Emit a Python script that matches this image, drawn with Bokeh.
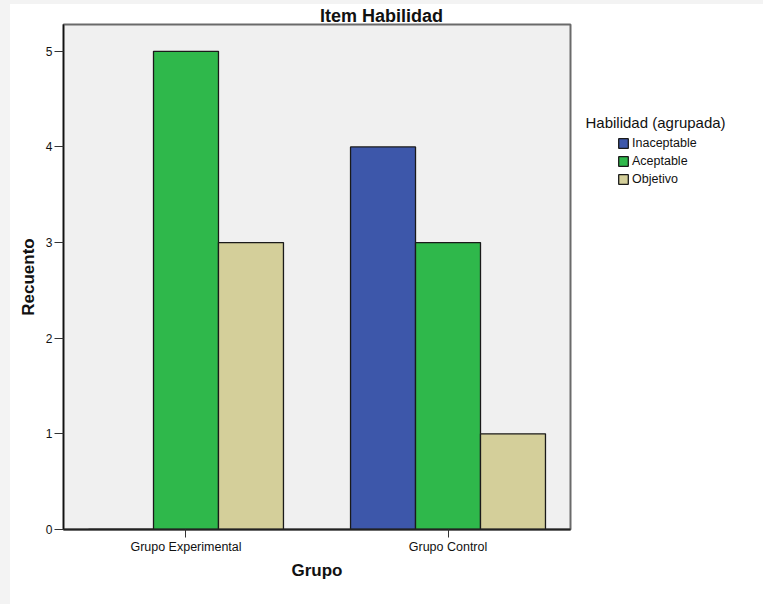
from bokeh.plotting import figure
from bokeh.layouts import row
from bokeh.models import (ColumnDataSource, FactorRange, Range1d, SingleIntervalTicker,
                          Legend, LegendItem, Label)
from bokeh.transform import dodge
from bokeh.embed import file_html
from bokeh.resources import INLINE

# Counts per group and skill level
groups = ["Grupo Experimental", "Grupo Control"]
levels = ["Inaceptable", "Aceptable", "Objetivo"]
inaceptable = [0, 4]
aceptable = [5, 3]
objetivo = [3, 1]

colors = ["#3d57aa", "#2fb84b", "#d4cf9a"]
FONT = "Liberation Sans"
BAR_LINE = "#1a1a1a"

source = ColumnDataSource(data=dict(
    grupo=groups,
    Inaceptable=inaceptable,
    Aceptable=aceptable,
    Objetivo=objetivo,
))

bar_w = 0.248
offsets = [-bar_w, 0.0, bar_w]


def add_bars(fig, visible=True):
    rs = []
    for lvl, off, col in zip(levels, offsets, colors):
        rs.append(fig.vbar(x=dodge("grupo", off, range=fig.x_range), top=lvl, width=bar_w,
                           source=source, fill_color=col, line_color=BAR_LINE,
                           line_width=1.3, visible=visible))
    return rs


# ---- main chart -------------------------------------------------------------
p = figure(
    width=562, height=600,
    margin=(4, 0, 0, 10),
    x_range=FactorRange(factors=groups, range_padding=-0.0325, range_padding_units="absolute"),
    y_range=Range1d(0, 5.28),
    output_backend="svg", toolbar_location=None,
    min_border_left=53, min_border_right=2, min_border_top=18, min_border_bottom=75,
)
p.title.visible = False
p.background_fill_color = "#f0f0f0"
p.border_fill_color = "white"
p.outline_line_color = "#6a6a6a"
p.outline_line_width = 2
p.grid.visible = False

add_bars(p)

p.yaxis.ticker = SingleIntervalTicker(interval=1)
p.yaxis.minor_tick_line_color = None
p.yaxis.major_tick_out = 9
p.yaxis.major_tick_in = 0
p.yaxis.major_label_standoff = 2
p.yaxis.axis_line_color = "#111111"
p.yaxis.axis_line_width = 1.5
p.yaxis.major_tick_line_color = "#333333"
p.yaxis.major_label_text_font = FONT
p.yaxis.major_label_text_font_size = "12px"
p.yaxis.major_label_text_color = "#111111"
p.yaxis.axis_label = "Recuento"
p.yaxis.axis_label_text_font = FONT
p.yaxis.axis_label_text_font_style = "bold"
p.yaxis.axis_label_text_font_size = "17px"
p.yaxis.axis_label_text_color = "#111111"
p.yaxis.axis_label_standoff = 5

p.xaxis.major_tick_out = 8
p.xaxis.major_tick_in = 0
p.xaxis.major_label_standoff = 2
p.xaxis.axis_line_color = "#222222"
p.xaxis.axis_line_width = 2
p.xaxis.major_tick_line_color = "#333333"
p.xaxis.major_label_text_font = FONT
p.xaxis.major_label_text_font_size = "12.5px"
p.xaxis.major_label_text_color = "#111111"
p.xaxis.axis_label = "Grupo"
p.xaxis.axis_label_text_font = FONT
p.xaxis.axis_label_text_font_style = "bold"
p.xaxis.axis_label_text_font_size = "17px"
p.xaxis.axis_label_text_color = "#111111"
p.xaxis.axis_label_standoff = 4

# chart title in the top border, centred over the whole page
p.add_layout(Label(x=318, y=9, x_units="screen", y_units="screen", text="Item Habilidad",
                   text_font=FONT, text_font_style="bold", text_font_size="18px",
                   text_align="center", text_baseline="alphabetic", text_color="#111111"),
             "above")

# ---- legend panel (frame is aligned with the chart frame) -------------------
lp = figure(
    width=191, height=600, margin=(4, 0, 0, 0),
    x_range=FactorRange(factors=groups), y_range=Range1d(0, 5.28),
    x_axis_type=None, y_axis_type=None,
    output_backend="svg", toolbar_location=None,
    min_border=0,
)
lp.title.visible = False
lp.outline_line_color = None
lp.grid.visible = False
lp.background_fill_color = "white"
lp.border_fill_color = "white"

# hidden copies of the bars, used only for the legend swatches
swatches = add_bars(lp, visible=False)

lp.add_layout(Label(x=13, y=407, x_units="screen", y_units="screen", text="Habilidad (agrupada)",
                    text_font=FONT, text_font_size="15px", text_align="left",
                    text_baseline="middle", text_color="#111111"))

legend = Legend(
    items=[LegendItem(label=l, renderers=[r]) for l, r in zip(levels, swatches)],
    location=(45, 343),
    padding=0, margin=0, spacing=4,
    glyph_width=12, glyph_height=12, label_height=13, label_standoff=3,
    label_text_font=FONT, label_text_font_size="12.5px", label_text_color="#111111",
    border_line_color=None, background_fill_alpha=0,
    inactive_fill_alpha=0,
)
lp.add_layout(legend, "center")

# light grey strips along the top and left page edges, white elsewhere
page_bg = ("linear-gradient(#f3f3f3, #f3f3f3) left top / 100% 4px no-repeat, "
           "linear-gradient(#f3f3f3, #f3f3f3) left top / 10px 100% no-repeat, white")
layout = row(p, lp, styles={"background": page_bg})

with open("out.html", "w") as f:
    f.write(file_html(layout, INLINE))
